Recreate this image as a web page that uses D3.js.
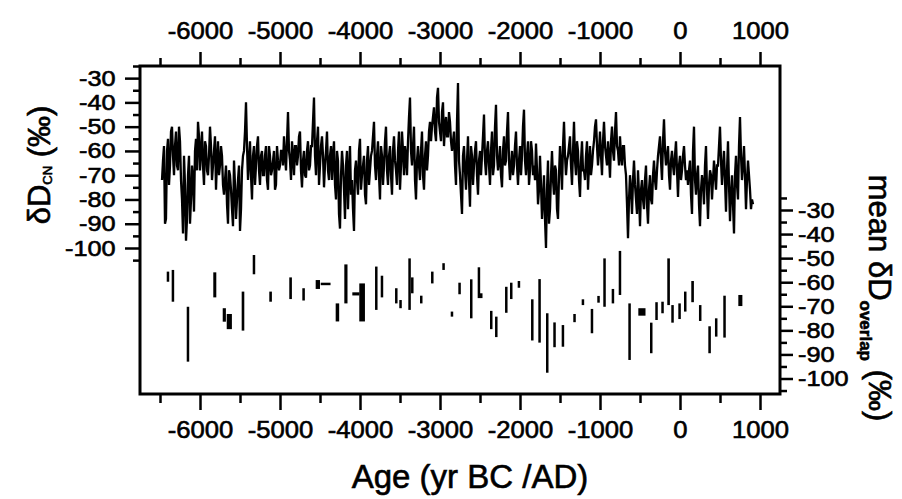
<!DOCTYPE html>
<html>
<head>
<meta charset="utf-8">
<script src="https://cdn.jsdelivr.net/npm/d3@7"></script>
<style>
body { margin: 0; background: #fff; }
svg { display: block; font-family: "Liberation Sans", Arial, sans-serif; }
text { stroke: #000; stroke-width: 0.6px; }
</style>
</head>
<body>
<svg id="main" width="902" height="499"></svg>
<script>
// dD_CN record: cnValues every 25 yr from -6475, cnMid half a step later
var cnStart = -6475, cnStep = 25;
var cnValues = [
 -72, -58, -88, -55, -66, -50, -70, -52, -68, -56,
 -80, -62, -97, -70, -90, -66, -85, -55, -48,
 -68, -52, -74, -58, -70, -50, -72, -60, -76, -56, -66, -62,
 -78, -66, -90, -70, -84, -64, -88, -72, -93, -68,
 -60, -40, -72, -56, -80, -58, -66, -54, -74, -60,
 -70, -58, -76, -62, -68, -60, -74, -64, -66,
 -60, -54, -68, -44, -64, -56, -70, -58, -62, -52, -75, -60, -71, -56, -66,
 -58, -38, -70, -50, -66, -54, -75, -60, -68, -62,
 -72, -56, -80, -64, -92, -60, -76, -66, -84, -58, -72, -93, -64, -78, -55, -70, -62, -82, -58, -68,
 -60, -48, -72, -56, -80, -62, -66, -50, -74, -58, -78, -54, -68, -60, -76, -52, -70, -62,
 -56, -38, -66, -50, -80, -58, -72, -52, -76, -56, -62, -48,
 -50, -42, -56, -34, -52, -44, -58, -46, -54, -48,
 -60, -52, -74, -32, -70, -86, -58, -76, -54, -83, -62, -66, -56, -78, -60,
 -62, -45, -70, -56, -74, -52, -66, -41, -68, -58, -75, -54, -64, -44, -72, -60, -66, -52, -74, -58, -62, -43, -70, -56, -68, -60,
 -66, -57, -82, -62, -88, -70, -100, -64, -84, -60, -78, -68, -88, -58, -76, -48, -70,
 -62, -54, -74, -48, -70, -60, -79, -56, -68, -62, -76, -58, -66,
 -56, -47, -66, -52, -70, -48, -62, -56, -71, -50, -64, -44, -60, -54, -66, -58, -70,
 -96, -70, -86, -64, -80, -68, -91, -72, -84, -66, -90, -70, -82, -64, -76,
 -62, -54, -72, -47, -66, -58, -76, -60, -70, -56, -79, -62, -68, -58, -72,
 -74, -64, -86, -50, -78, -66, -91, -70, -82, -58, -88, -68, -80, -64, -76,
 -66, -50, -74, -60, -85, -56, -89, -70, -94, -62, -80, -46, -72, -58, -84, -64, -76, -80
];
var cnMid = [
 -64, -90, -60, -74, -52, -62, -58, -66, -50, -72,
 -94, -74, -88, -62, -80, -72, -60, -68, -54,
 -60, -66, -56, -68, -62, -58, -66, -54, -64, -70, -58, -74,
 -72, -82, -68, -76, -91, -74, -80, -66, -84, -62,
 -52, -58, -64, -70, -62, -74, -58, -68, -62, -70,
 -62, -72, -58, -70, -64, -76, -58, -68, -60,
 -66, -62, -56, -60, -72, -62, -58, -66, -54, -68, -64, -70, -60, -68, -58,
 -48, -62, -56, -74, -58, -62, -66, -52, -72, -58,
 -62, -74, -60, -86, -70, -66, -88, -60, -70, -78, -84, -68, -72, -60, -76, -66, -78, -64, -74, -62,
 -54, -66, -62, -70, -58, -74, -56, -68, -62, -70, -60, -64, -74, -52, -66, -60, -58, -70,
 -46, -60, -58, -72, -64, -66, -60, -70, -62, -68, -52, -56,
 -46, -52, -38, -48, -56, -40, -50, -54, -44, -56,
 -56, -66, -48, -64, -78, -62, -68, -64, -72, -58, -74, -60, -70, -64, -70,
 -54, -64, -60, -66, -60, -70, -50, -62, -64, -70, -60, -66, -52, -64, -66, -70, -58, -66, -64, -70, -50, -64, -62, -74, -56, -70,
 -72, -68, -76, -74, -80, -88, -76, -90, -70, -72, -66, -84, -70, -66, -58, -62, -64,
 -58, -66, -60, -64, -56, -72, -64, -68, -72, -56, -66, -70, -60,
 -50, -58, -60, -62, -56, -58, -66, -62, -56, -60, -52, -58, -66, -62, -58, -66, -82,
 -80, -76, -72, -74, -86, -78, -76, -80, -72, -82, -76, -80, -70, -72, -68,
 -58, -64, -56, -60, -62, -70, -64, -66, -62, -68, -66, -72, -62, -66, -68,
 -68, -78, -60, -72, -70, -82, -76, -74, -66, -76, -74, -70, -72, -70, -66,
 -58, -64, -66, -72, -68, -74, -78, -82, -70, -74, -58, -62, -66, -70, -72, -70, -84, -82
];

// mean dD_overlap intervals: start yr, end yr, upper and lower value
var ovStart = [-6416,-6354,-6166,-5834,-5716,-5666,-5479,-5341,-5134,-4884,-4721,-4554,-4491,-4304,-4196,-4096,-4009,-3812,-3741,-3562,-3509,-3396,-3362,-3250,-3112,-2971,-2866,-2771,-2625,-2529,-2500,-2375,-2312,-2187,-2125,-2029,-1862,-1771,-1675,-1584,-1479,-1334,-1229,-1116,-1034,-959,-854,-766,-646,-521,-375,-309,-234,-159,-109,-21,50,141,237,354,437,541,729];
var ovEnd   = [-6390,-6325,-6145,-5790,-5670,-5595,-5440,-5312,-5095,-4845,-4683,-4494,-4362,-4254,-4150,-4000,-3932,-3788,-3704,-3538,-3483,-3366,-3338,-3213,-3079,-2941,-2838,-2745,-2595,-2503,-2463,-2345,-2283,-2158,-2095,-1995,-1838,-1745,-1645,-1554,-1450,-1304,-1200,-1088,-1004,-929,-825,-738,-620,-425,-345,-279,-204,-120,-79,8,87,180,271,392,467,567,786];
var ovHigh  = [-55.6,-54.9,-70.2,-55.9,-70.8,-73.2,-63.9,-48.7,-63.9,-58.0,-62.5,-59.1,-60.2,-68.8,-52.6,-64.2,-60.5,-53.5,-57.3,-62.5,-67.4,-50.1,-58.0,-65.6,-55.6,-52.1,-72.2,-60.2,-58.8,-53.8,-64.6,-71.9,-74.3,-61.9,-60.2,-59.5,-67.1,-58.7,-72.9,-76.7,-77.8,-73.2,-67.1,-71.1,-65.7,-50.1,-62.8,-47.0,-68.8,-70.8,-76.8,-68.3,-68.1,-50.1,-69.5,-68.8,-63.9,-59.5,-69.5,-78.3,-75.0,-65.6,-65.3];
var ovLow   = [-59.8,-68.1,-93.0,-66.3,-76.4,-79.5,-80.1,-56.7,-68.1,-67.0,-67.6,-62.8,-61.0,-76.3,-68.8,-65.5,-76.3,-71.5,-66.3,-68.8,-70.8,-71.5,-64.6,-68.8,-60.5,-54.9,-74.3,-65.0,-75.0,-66.6,-66.6,-79.5,-82.8,-72.7,-67.0,-62.3,-84.2,-85.1,-97.6,-87.0,-86.8,-76.6,-69.5,-81.2,-68.5,-70.2,-68.8,-65.3,-92.3,-73.9,-89.5,-75.7,-72.9,-69.5,-76.8,-75.3,-72.2,-68.3,-76.1,-89.5,-82.6,-83.0,-69.9];

var yearMajor = [-6000, -5000, -4000, -3000, -2000, -1000, 0, 1000];
var yearMinor = [-6500, -5500, -4500, -3500, -2500, -1500, -500, 500];
var leftMajor = [-30, -40, -50, -60, -70, -80, -90, -100];
var leftMinor = [-25, -35, -45, -55, -65, -75, -85, -95, -105];
var rightMajor = [-30, -40, -50, -60, -70, -80, -90, -100];
var rightMinor = [-25, -35, -45, -55, -65, -75, -85, -95, -105];

var svg = d3.select("#main");
var x = d3.scaleLinear().domain([-6750, 1250]).range([140, 780]);
var yL = d3.scaleLinear().domain([-25, -100]).range([66, 248]);
var yR = d3.scaleLinear().domain([-30, -100]).range([210, 378.5]);
var fmt = function(d) { return String(d); };
var sx = 1.15;

// curve
var cnData = [];
cnValues.forEach(function(v, i) {
	cnData.push([cnStart + i * cnStep, v]);
	cnData.push([cnStart + i * cnStep + cnStep / 2, cnMid[i]]);
});
svg.append("path").datum(cnData)
	.attr("d", d3.line().x(function(d) { return x(d[0]); }).y(function(d) { return yL(d[1]); }))
	.attr("fill", "none").attr("stroke", "#000").attr("stroke-width", 2.3).attr("stroke-linejoin", "miter");

// overlap bars
svg.append("g").selectAll("rect").data(ovStart).join("rect")
	.attr("x", function(d) { return x(d); })
	.attr("width", function(d, i) { return Math.max(2.5, x(ovEnd[i]) - x(d) - 0.5); })
	.attr("y", function(d, i) { return yR(ovHigh[i]); })
	.attr("height", function(d, i) { return Math.max(2.5, yR(ovLow[i]) - yR(ovHigh[i])); })
	.attr("fill", "#000");

// frame
svg.append("rect").attr("x", 140).attr("y", 66).attr("width", 640).attr("height", 328)
	.attr("fill", "none").attr("stroke", "#000").attr("stroke-width", 3);

function styleAxis(g) {
	g.select(".domain").remove();
	g.selectAll("line").attr("stroke", "#000").attr("stroke-width", 2.5);
	g.selectAll("text").attr("fill", "#000").attr("font-size", 22).attr("font-family", "Liberation Sans, Arial, sans-serif");
}

// top axis
svg.append("g").attr("transform", "translate(0,66)").call(d3.axisTop(x).tickValues(yearMinor).tickSize(8).tickFormat("")).call(styleAxis);
svg.append("g").attr("transform", "translate(0,66)").call(d3.axisTop(x).tickValues(yearMajor).tickSize(14).tickPadding(13).tickFormat(fmt)).call(styleAxis)
	.selectAll("text").attr("font-size", 24).attr("transform", "scale(1.07,1)");
// bottom axis
svg.append("g").attr("transform", "translate(0,394)").call(d3.axisBottom(x).tickValues(yearMinor).tickSize(9).tickFormat("")).call(styleAxis);
svg.append("g").attr("transform", "translate(0,394)").call(d3.axisBottom(x).tickValues(yearMajor).tickSize(16).tickPadding(11).tickFormat(fmt)).call(styleAxis)
	.selectAll("text").attr("font-size", 24).attr("transform", "scale(1.07,1)");
// left axis
svg.append("g").attr("transform", "translate(140,0)").call(d3.axisLeft(yL).tickValues(leftMinor).tickSize(7).tickFormat("")).call(styleAxis);
svg.append("g").attr("transform", "translate(140,0)").call(d3.axisLeft(yL).tickValues(leftMajor).tickSize(15).tickPadding(6).tickFormat(fmt)).call(styleAxis)
	.selectAll("text").attr("transform", "translate(-21,0) scale(" + sx + ",1)").attr("x", -3);
// right axis
svg.append("g").attr("transform", "translate(780,0)").call(d3.axisRight(yR).tickValues(rightMinor).tickSize(7).tickFormat("")).call(styleAxis);
svg.append("g").attr("transform", "translate(780,0)").call(d3.axisRight(yR).tickValues(rightMajor).tickSize(13).tickPadding(5).tickFormat(fmt)).call(styleAxis)
	.selectAll("text").attr("transform", "translate(18,0) scale(" + sx + ",1)").attr("x", 0);

// titles
svg.append("text").attr("x", 470).attr("y", 488).attr("text-anchor", "middle").attr("font-size", 33).text("Age (yr BC /AD)");

var lt = svg.append("text").attr("transform", "translate(50,165) rotate(-90)").attr("text-anchor", "middle").attr("font-size", 31);
lt.append("tspan").text("\u03b4D");
lt.append("tspan").attr("font-size", 13).attr("dy", 2).text("CN");
lt.append("tspan").attr("dy", -2).text(" (\u2030)");

var rt = svg.append("text").attr("transform", "translate(869,298) rotate(90)").attr("text-anchor", "middle").attr("font-size", 31);
rt.append("tspan").text("mean \u03b4D");
rt.append("tspan").attr("font-size", 17).attr("font-weight", "bold").attr("dy", 9).text("overlap");
rt.append("tspan").attr("dy", -9).text(" (\u2030)");
</script>
</body>
</html>
